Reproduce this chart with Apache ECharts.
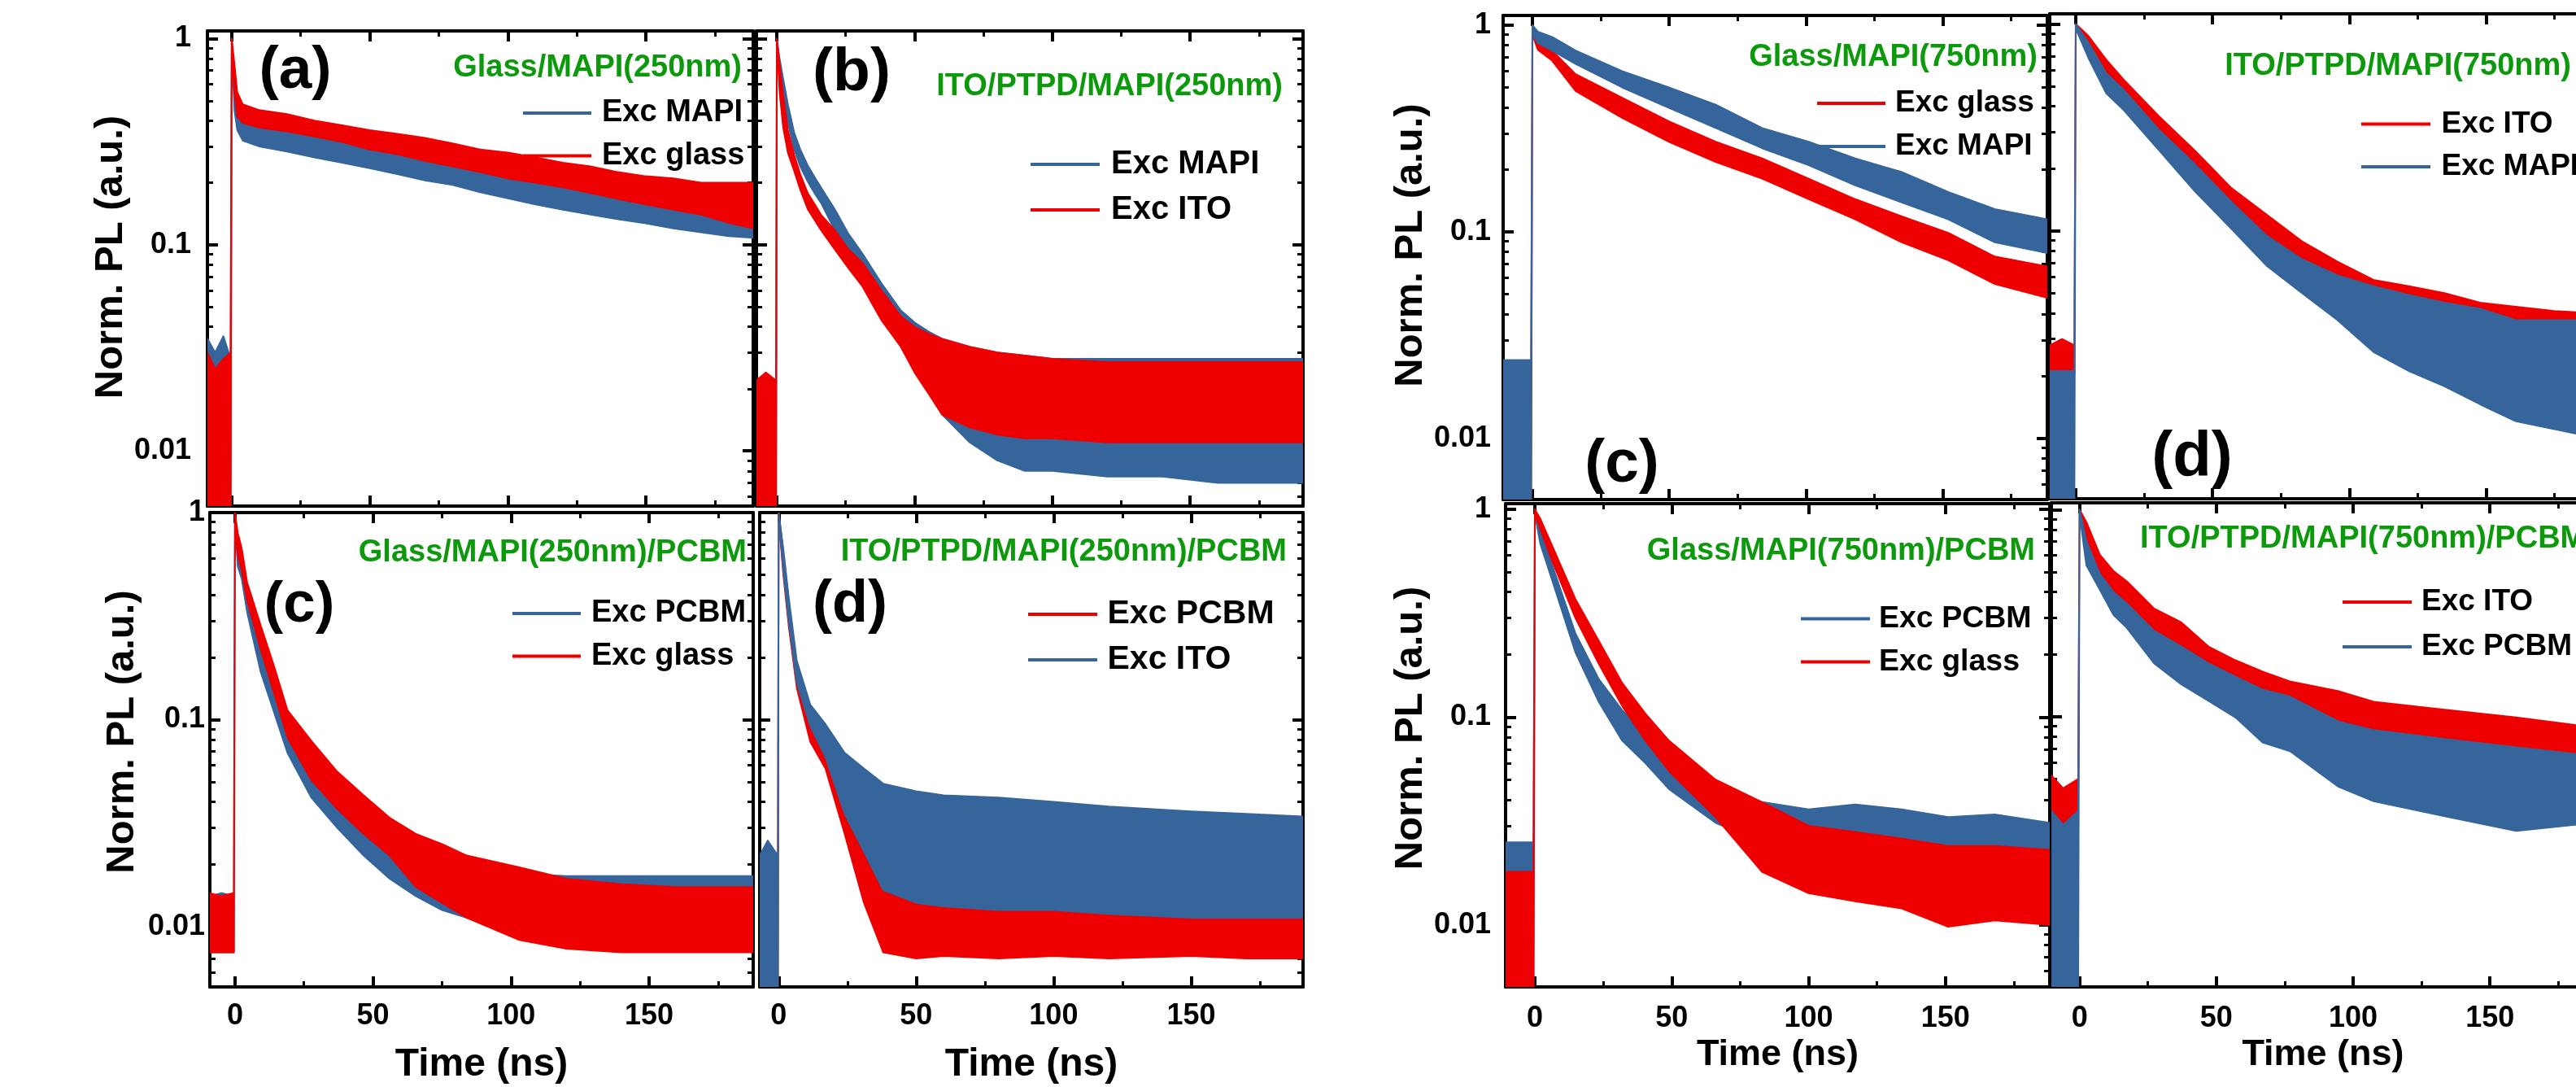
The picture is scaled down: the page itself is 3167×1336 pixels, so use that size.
<!DOCTYPE html>
<html><head><meta charset="utf-8">
<script src="https://cdn.jsdelivr.net/npm/echarts@6/dist/echarts.min.js"></script>
<style>html,body{margin:0;padding:0;background:#fff}#c{width:3167px;height:1336px}</style>
</head><body><div id="c"></div>
<script>
// ---------------- DATA (upper / lower edge of each noisy trace) ----------------
const X_TICKS = [0, 50, 100, 150];
const X_MINOR = [25, 75, 125, 175];
const Y_TICK_LABELS = ['0.01', '0.1', '1'];

// (a) Glass/MAPI(250nm)
const T_A = [-8.8, -6, -3, -0.4, 0, 1, 2, 4, 10, 20, 30, 40, 50, 60, 70, 80, 90, 100, 110, 120, 130, 140, 150, 160, 170, 180, 189];
const A_MAPI_HI = [0.035, 0.03, 0.036, 0.028, 1.0, 0.6, 0.45, 0.41, 0.39, 0.37, 0.35, 0.33, 0.31, 0.29, 0.275, 0.26, 0.245, 0.23, 0.215, 0.205, 0.195, 0.185, 0.175, 0.165, 0.158, 0.15, 0.145];
const A_MAPI_LO = [0.004, 0.004, 0.004, 0.004, 0.9, 0.45, 0.36, 0.32, 0.3, 0.283, 0.265, 0.25, 0.235, 0.22, 0.205, 0.195, 0.18, 0.168, 0.157, 0.148, 0.14, 0.133, 0.127, 0.12, 0.115, 0.11, 0.108];
const A_GLASS_HI = [0.03, 0.025, 0.028, 0.03, 1.0, 0.75, 0.55, 0.48, 0.45, 0.43, 0.4, 0.38, 0.36, 0.345, 0.33, 0.31, 0.29, 0.28, 0.265, 0.25, 0.24, 0.225, 0.215, 0.21, 0.2, 0.2, 0.2];
const A_GLASS_LO = [0.004, 0.004, 0.004, 0.004, 0.9, 0.55, 0.42, 0.39, 0.37, 0.355, 0.335, 0.315, 0.29, 0.275, 0.255, 0.24, 0.225, 0.21, 0.2, 0.19, 0.178, 0.167, 0.157, 0.148, 0.14, 0.128, 0.12];

// (b) ITO/PTPD/MAPI(250nm)
const T_B = [-7.4, -4, -0.3, 0, 1, 2.3, 4, 6.3, 8.5, 11.2, 14, 16, 21, 26, 31, 38, 45, 50, 55, 60, 70, 80, 90, 100, 120, 140, 160, 180, 191];
const B_MAPI_HI = [0.015, 0.016, 0.015, 1.0, 0.8, 0.64, 0.48, 0.35, 0.29, 0.243, 0.21, 0.19, 0.149, 0.113, 0.091, 0.065, 0.048, 0.042, 0.038, 0.035, 0.032, 0.03, 0.029, 0.028, 0.028, 0.028, 0.028, 0.028, 0.028];
const B_MAPI_LO = [0.003, 0.003, 0.003, 0.95, 0.68, 0.5, 0.39, 0.29, 0.24, 0.203, 0.175, 0.16, 0.118, 0.09, 0.073, 0.05, 0.036, 0.028, 0.02, 0.015, 0.011, 0.009, 0.008, 0.008, 0.0075, 0.0075, 0.007, 0.007, 0.007];
const B_ITO_HI = [0.022, 0.024, 0.022, 1.0, 0.745, 0.53, 0.36, 0.273, 0.22, 0.178, 0.155, 0.14, 0.118, 0.095, 0.082, 0.06, 0.045, 0.04, 0.037, 0.035, 0.032, 0.03, 0.029, 0.028, 0.027, 0.027, 0.027, 0.027, 0.027];
const B_ITO_LO = [0.003, 0.003, 0.003, 0.95, 0.55, 0.37, 0.28, 0.228, 0.185, 0.149, 0.13, 0.118, 0.095, 0.077, 0.063, 0.043, 0.032, 0.024, 0.019, 0.015, 0.013, 0.012, 0.0115, 0.0115, 0.011, 0.011, 0.011, 0.011, 0.011];

// (c) Glass/MAPI(250nm)/PCBM
const T_C = [-9.1, -5, -0.4, 0, 1, 2.5, 4.4, 9.3, 14.2, 19, 27.6, 37, 46.6, 56, 65.5, 75, 84, 103, 120, 140, 160, 187.7];
const C_PCBM_HI = [0.014, 0.0145, 0.014, 1.0, 0.7, 0.571, 0.42, 0.23, 0.146, 0.093, 0.062, 0.045, 0.034, 0.028, 0.024, 0.021, 0.019, 0.018, 0.0175, 0.0175, 0.0175, 0.0175];
const C_PCBM_LO = [0.0075, 0.0075, 0.0075, 0.9, 0.55, 0.476, 0.33, 0.17, 0.108, 0.069, 0.042, 0.03, 0.022, 0.017, 0.014, 0.012, 0.011, 0.009, 0.0085, 0.0082, 0.008, 0.008];
const C_GLASS_HI = [0.0145, 0.014, 0.0145, 1.0, 0.8, 0.665, 0.46, 0.285, 0.18, 0.111, 0.079, 0.056, 0.043, 0.0335, 0.028, 0.025, 0.022, 0.0193, 0.017, 0.016, 0.0155, 0.0155];
const C_GLASS_LO = [0.0075, 0.0075, 0.0075, 0.9, 0.62, 0.52, 0.375, 0.218, 0.133, 0.082, 0.051, 0.037, 0.028, 0.022, 0.0155, 0.013, 0.011, 0.0086, 0.0078, 0.0075, 0.0075, 0.0075];

// (d) ITO/PTPD/MAPI(250nm)/PCBM
const T_D = [-6.9, -4, -0.3, 0, 1.7, 3.7, 6.6, 11.5, 17, 24, 31, 38, 50, 60, 80, 100, 120, 150, 170, 190.7];
const D_PCBM_HI = [0.015, 0.016, 0.015, 1.0, 0.64, 0.37, 0.17, 0.1, 0.08, 0.043, 0.031, 0.024, 0.022, 0.021, 0.02, 0.02, 0.02, 0.02, 0.02, 0.02];
const D_PCBM_LO = [0.003, 0.003, 0.003, 0.95, 0.5, 0.28, 0.142, 0.078, 0.058, 0.028, 0.013, 0.0075, 0.007, 0.0072, 0.007, 0.0072, 0.007, 0.0072, 0.007, 0.007];
const D_ITO_HI = [0.022, 0.026, 0.022, 1.0, 0.665, 0.385, 0.192, 0.118, 0.095, 0.069, 0.058, 0.049, 0.045, 0.043, 0.042, 0.04, 0.038, 0.036, 0.035, 0.034];
const D_ITO_LO = [0.003, 0.003, 0.003, 0.95, 0.52, 0.294, 0.15, 0.093, 0.066, 0.035, 0.023, 0.015, 0.013, 0.0125, 0.012, 0.012, 0.0115, 0.011, 0.011, 0.011];

// right (c) Glass/MAPI(750nm)
const T_RC1 = [-10.7, -6, -0.5, 0, 2, 7.2, 15.8, 32.8, 49.9, 67, 84, 101, 118, 135, 152, 169, 188.2];
const RC1_GLASS_HI = [0.015, 0.015, 0.015, 1.0, 0.85, 0.754, 0.58, 0.446, 0.343, 0.273, 0.227, 0.181, 0.144, 0.119, 0.099, 0.076, 0.068];
const RC1_GLASS_LO = [0.004, 0.004, 0.004, 0.9, 0.76, 0.674, 0.48, 0.356, 0.273, 0.218, 0.181, 0.144, 0.115, 0.089, 0.073, 0.056, 0.048];
const RC1_MAPI_HI = [0.024, 0.024, 0.024, 1.0, 0.93, 0.877, 0.754, 0.6, 0.5, 0.413, 0.318, 0.273, 0.227, 0.195, 0.156, 0.129, 0.115];
const RC1_MAPI_LO = [0.004, 0.004, 0.004, 0.9, 0.82, 0.754, 0.649, 0.5, 0.398, 0.318, 0.254, 0.21, 0.168, 0.139, 0.115, 0.089, 0.079];

// right (d) ITO/PTPD/MAPI(750nm)
const T_RD1 = [-9.5, -5, -0.5, 0, 4.6, 11.1, 17.6, 30.6, 43.6, 56.7, 69.7, 82.7, 95.7, 108.8, 121.8, 134.8, 147.8, 160.9, 175, 190];
const RD1_ITO_HI = [0.028, 0.03, 0.028, 1.0, 0.877, 0.674, 0.537, 0.356, 0.244, 0.162, 0.12, 0.089, 0.071, 0.058, 0.054, 0.05, 0.045, 0.043, 0.041, 0.04];
const RD1_ITO_LO = [0.02, 0.02, 0.02, 0.95, 0.754, 0.558, 0.446, 0.295, 0.188, 0.12, 0.085, 0.066, 0.052, 0.045, 0.039, 0.036, 0.033, 0.031, 0.028, 0.027];
const RD1_MAPI_HI = [0.021, 0.021, 0.021, 1.0, 0.813, 0.58, 0.48, 0.306, 0.21, 0.139, 0.095, 0.073, 0.061, 0.054, 0.049, 0.045, 0.042, 0.037, 0.037, 0.037];
const RD1_MAPI_LO = [0.004, 0.004, 0.004, 0.95, 0.687, 0.463, 0.383, 0.244, 0.155, 0.103, 0.068, 0.05, 0.037, 0.026, 0.021, 0.0177, 0.0145, 0.012, 0.011, 0.01];

// right (c) lower Glass/MAPI(750nm)/PCBM
const T_RC2 = [-10.7, -6, -0.5, 0, 2, 6.3, 14.8, 23.4, 31.9, 40.4, 49, 66, 83, 100, 117, 134, 151, 168, 188];
const RC2_PCBM_HI = [0.025, 0.025, 0.025, 1.0, 0.8, 0.541, 0.253, 0.152, 0.108, 0.084, 0.065, 0.047, 0.039, 0.036, 0.038, 0.036, 0.033, 0.034, 0.031];
const RC2_PCBM_LO = [0.004, 0.004, 0.004, 0.95, 0.68, 0.457, 0.205, 0.118, 0.077, 0.06, 0.045, 0.031, 0.025, 0.02, 0.018, 0.018, 0.017, 0.018, 0.018];
const RC2_GLASS_HI = [0.018, 0.018, 0.018, 1.0, 0.9, 0.669, 0.37, 0.232, 0.146, 0.104, 0.077, 0.05, 0.039, 0.03, 0.028, 0.026, 0.024, 0.024, 0.023];
const RC2_GLASS_LO = [0.004, 0.004, 0.004, 0.95, 0.8, 0.565, 0.3, 0.18, 0.113, 0.077, 0.055, 0.033, 0.018, 0.0142, 0.013, 0.012, 0.0098, 0.0105, 0.01];

// right (d) lower ITO/PTPD/MAPI(750nm)/PCBM
const T_RD2 = [-10.3, -6, -0.5, 0, 2.5, 7.4, 12.4, 17.3, 27.2, 37.2, 47.1, 57, 66.9, 76.9, 94.4, 107.5, 133.5, 159.6, 181, 190];
const RD2_ITO_HI = [0.052, 0.045, 0.05, 1.0, 0.87, 0.606, 0.505, 0.45, 0.333, 0.285, 0.218, 0.187, 0.165, 0.148, 0.133, 0.118, 0.108, 0.099, 0.091, 0.09];
const RD2_ITO_LO = [0.034, 0.03, 0.034, 0.95, 0.64, 0.477, 0.385, 0.333, 0.245, 0.205, 0.171, 0.134, 0.115, 0.1, 0.084, 0.077, 0.071, 0.065, 0.06, 0.06];
const RD2_PCBM_HI = [0.035, 0.03, 0.035, 1.0, 0.705, 0.49, 0.4, 0.352, 0.26, 0.218, 0.181, 0.156, 0.135, 0.125, 0.095, 0.086, 0.078, 0.071, 0.066, 0.065];
const RD2_PCBM_LO = [0.004, 0.004, 0.004, 0.95, 0.538, 0.41, 0.31, 0.268, 0.181, 0.143, 0.119, 0.099, 0.075, 0.068, 0.046, 0.039, 0.033, 0.028, 0.03, 0.03];

// ---------------- STYLE / LAYOUT ----------------
const RED = '#ee0000', BLUE = '#35659b', GREEN = '#0c9a0c';
const FONT = '"Liberation Sans", Arial, Helvetica, sans-serif';

const panels = [
  {grid:{left:255,top:38,width:671,height:584}, x:[-8.8,188.9], y:[0.0054,1.09], yLab:20, xLab:null, yName:{gap:80,shift:14}, xName:null,
   series:[['a|Exc MAPI',BLUE,T_A,A_MAPI_HI,A_MAPI_LO],['a|Exc glass',RED,T_A,A_GLASS_HI,A_GLASS_LO]],
   legend:{left:643,top:119,w:84,lh:40,gap:12.5,fs:38,pad:8,items:['a|Exc MAPI','a|Exc glass']}},
  {grid:{left:930,top:38,width:672,height:584}, x:[-7.4,191], y:[0.0054,1.09], yLab:null, xLab:null, yName:null, xName:null,
   series:[['b|Exc MAPI',BLUE,T_B,B_MAPI_HI,B_MAPI_LO],['b|Exc ITO',RED,T_B,B_ITO_HI,B_ITO_LO]],
   legend:{left:1267,top:181,w:85,lh:42,gap:14,fs:40,pad:9,items:['b|Exc MAPI','b|Exc ITO']}},
  {grid:{left:258,top:630,width:668,height:583}, x:[-9.1,187.7], y:[0.0051,1], yLab:6, xLab:18, yName:{gap:83,shift:22}, xName:{gap:72,fs:48},
   series:[['c|Exc PCBM',BLUE,T_C,C_PCBM_HI,C_PCBM_LO],['c|Exc glass',RED,T_C,C_GLASS_HI,C_GLASS_LO]],
   legend:{left:630,top:734,w:84,lh:40,gap:12.6,fs:38,pad:8,items:['c|Exc PCBM','c|Exc glass']}},
  {grid:{left:934,top:630,width:668,height:583}, x:[-6.9,190.7], y:[0.0051,1], yLab:null, xLab:18, yName:null, xName:{gap:72,fs:48},
   series:[['d|Exc PCBM',RED,T_D,D_PCBM_HI,D_PCBM_LO],['d|Exc ITO',BLUE,T_D,D_ITO_HI,D_ITO_LO]],
   legend:{left:1264,top:734,w:85,lh:42,gap:14,fs:41,pad:7.5,items:['d|Exc PCBM','d|Exc ITO']}},
  {grid:{left:1848,top:19,width:669,height:595}, x:[-10.7,188.2], y:[0.00507,1.115], yLab:15, xLab:null, yName:{gap:78,shift:15}, xName:null,
   series:[['rc1|Exc glass',RED,T_RC1,RC1_GLASS_HI,RC1_GLASS_LO],['rc1|Exc MAPI',BLUE,T_RC1,RC1_MAPI_HI,RC1_MAPI_LO]],
   legend:{left:2234,top:107,w:84,lh:40,gap:13,fs:37,pad:7,items:['rc1|Exc glass','rc1|Exc MAPI']}},
  {grid:{left:2520,top:17,width:669,height:596}, x:[-9.5,189.4], y:[0.00507,1.12], yLab:null, xLab:null, yName:null, xName:null,
   series:[['rd1|Exc ITO',RED,T_RD1,RD1_ITO_HI,RD1_ITO_LO],['rd1|Exc MAPI',BLUE,T_RD1,RD1_MAPI_HI,RD1_MAPI_LO]],
   legend:{left:2903,top:132.6,w:85,lh:40,gap:12.4,fs:37,pad:8.5,items:['rd1|Exc ITO','rd1|Exc MAPI']}},
  {grid:{left:1851,top:619,width:669,height:594}, x:[-10.7,188.1], y:[0.00503,1.065], yLab:18, xLab:21, yName:{gap:73,shift:21}, xName:{gap:61,fs:45},
   series:[['rc2|Exc PCBM',BLUE,T_RC2,RC2_PCBM_HI,RC2_PCBM_LO],['rc2|Exc glass',RED,T_RC2,RC2_GLASS_HI,RC2_GLASS_LO]],
   legend:{left:2214,top:740.6,w:85,lh:40,gap:13,fs:37.5,pad:6,items:['rc2|Exc PCBM','rc2|Exc glass']}},
  {grid:{left:2522,top:618,width:668,height:595}, x:[-10.3,188.3], y:[0.00494,1.078], yLab:null, xLab:21, yName:null, xName:{gap:61,fs:45},
   series:[['rd2|Exc ITO',RED,T_RD2,RD2_ITO_HI,RD2_ITO_LO],['rd2|Exc PCBM',BLUE,T_RD2,RD2_PCBM_HI,RD2_PCBM_LO]],
   legend:{left:2880,top:720,w:85,lh:40,gap:15,fs:37,pad:7,items:['rd2|Exc ITO','rd2|Exc PCBM']}}
];

const titles = [
  ['Glass/MAPI(250nm)', 912, 84, 'right'], ['ITO/PTPD/MAPI(250nm)', 1577, 107, 'right'],
  ['Glass/MAPI(250nm)/PCBM', 918, 680, 'right'], ['ITO/PTPD/MAPI(250nm)/PCBM', 1582, 679, 'right'],
  ['Glass/MAPI(750nm)', 2505, 71, 'right'], ['ITO/PTPD/MAPI(750nm)', 3161, 82, 'right'],
  ['Glass/MAPI(750nm)/PCBM', 2502, 678, 'right'], ['ITO/PTPD/MAPI(750nm)/PCBM', 2631, 663, 'left']
];
const tags = [['(a)',363,88,73],['(b)',1047,90,75],['(c)',368,744,71],['(d)',1045,744,72],['(c)',1994,571,75],['(d)',2695,563,78]];

// ---------------- BUILD ----------------
const L10 = Math.log10;
const LABEL_MAP = {'-2':Y_TICK_LABELS[0], '-1':Y_TICK_LABELS[1], '0':Y_TICK_LABELS[2]};
const Y_MAJOR = [-2, -1, 0];
function yMinor(lo, hi) {
  const out = [];
  for (const d of [-3, -2, -1]) for (let k = 2; k <= 9; k++) { const v = d + L10(k); if (v > lo && v < hi) out.push(v); }
  return out;
}
const txt = (fs) => ({fontSize: fs, fontWeight: 'bold', fontFamily: FONT, color: '#000'});
const grid = [], xAxis = [], yAxis = [], series = [], legend = [];

panels.forEach((p, i) => {
  grid.push(Object.assign({outerBoundsMode: 'none', containLabel: false}, p.grid));
  const ymin = L10(p.y[0]), ymax = L10(p.y[1]);
  const line = {show: true, onZero: false, lineStyle: {color: '#000', width: 4}};
  const noLine = {show: false, onZero: false};
  const xBase = {gridIndex: i, type: 'value', min: p.x[0], max: p.x[1], splitLine: {show: false}};
  xAxis.push(Object.assign({}, xBase, {position: 'bottom', axisLine: line,
    axisTick: {show: true, inside: true, length: 13, lineStyle: {width: 4, color: '#000'}, customValues: X_TICKS},
    axisLabel: Object.assign({show: p.xLab !== null, customValues: X_TICKS, margin: p.xLab || 0}, txt(36)),
    name: p.xName ? 'Time (ns)' : '', nameLocation: 'middle', nameGap: p.xName ? p.xName.gap : 0,
    nameTextStyle: txt(p.xName ? p.xName.fs : 10)}));
  xAxis.push(Object.assign({}, xBase, {position: 'bottom', axisLine: noLine,
    axisTick: {show: true, inside: true, length: 7, lineStyle: {width: 3, color: '#000'}, customValues: X_MINOR}, axisLabel: {show: false}}));
  xAxis.push(Object.assign({}, xBase, {position: 'top', axisLine: line,
    axisTick: {show: true, inside: true, length: 13, lineStyle: {width: 4, color: '#000'}, customValues: X_TICKS}, axisLabel: {show: false}}));
  xAxis.push(Object.assign({}, xBase, {position: 'top', axisLine: noLine,
    axisTick: {show: true, inside: true, length: 7, lineStyle: {width: 3, color: '#000'}, customValues: X_MINOR}, axisLabel: {show: false}}));

  const yBase = {gridIndex: i, type: 'value', min: ymin, max: ymax, splitLine: {show: false}};
  const minors = yMinor(ymin, ymax);
  const majors = Y_MAJOR.filter(v => v >= ymin - 1e-9 && v <= ymax + 1e-9);
  yAxis.push(Object.assign({}, yBase, {position: 'left', axisLine: line,
    axisTick: {show: true, inside: true, length: 13, lineStyle: {width: 4, color: '#000'}, customValues: majors},
    axisLabel: Object.assign({show: p.yLab !== null, customValues: majors, margin: p.yLab || 0,
      formatter: v => LABEL_MAP[String(Math.round(v))] || ''}, txt(36)),
    name: p.yName ? 'Norm. PL (a.u.)' : '', nameLocation: 'middle', nameRotate: 90, nameGap: p.yName ? p.yName.gap : 0,
    nameTextStyle: Object.assign(txt(49), {padding: [0, 0, 0, p.yName ? 2 * p.yName.shift : 0]})}));
  yAxis.push(Object.assign({}, yBase, {position: 'left', axisLine: noLine,
    axisTick: {show: true, inside: true, length: 7, lineStyle: {width: 3, color: '#000'}, customValues: minors}, axisLabel: {show: false}}));
  yAxis.push(Object.assign({}, yBase, {position: 'right', axisLine: line,
    axisTick: {show: true, inside: true, length: 13, lineStyle: {width: 4, color: '#000'}, customValues: majors}, axisLabel: {show: false}}));
  yAxis.push(Object.assign({}, yBase, {position: 'right', axisLine: noLine,
    axisTick: {show: true, inside: true, length: 7, lineStyle: {width: 3, color: '#000'}, customValues: minors}, axisLabel: {show: false}}));

  p.series.forEach(([name, color, T, HI, LO]) => {
    series.push({
      type: 'custom', name, xAxisIndex: 4 * i, yAxisIndex: 4 * i, clip: true, silent: true,
      itemStyle: {color},
      data: T.map((t, k) => [t, L10(HI[k]), L10(LO[k])]),
      encode: {x: 0, y: [1, 2]},
      renderItem: (params, api) => {
        if (params.dataIndex !== 0) return null;
        const pts = [];
        for (let k = 0; k < T.length; k++) pts.push(api.coord([T[k], L10(HI[k])]));
        for (let k = T.length - 1; k >= 0; k--) pts.push(api.coord([T[k], L10(LO[k])]));
        return {type: 'polygon', shape: {points: pts}, style: {fill: color, stroke: color, lineWidth: 2, lineJoin: 'round'}};
      }
    });
  });
  const lg = p.legend;
  legend.push({
    orient: 'vertical', left: lg.left, top: lg.top, padding: 0, itemWidth: lg.w, itemHeight: 4, icon: 'rect',
    itemGap: lg.gap, selectedMode: false, data: lg.items,
    formatter: n => n.split('|')[1],
    textStyle: Object.assign(txt(lg.fs), {lineHeight: lg.lh, padding: [0, 0, 0, lg.pad]})
  });
});

const graphic = [];
titles.forEach(([t, x, y, al]) => graphic.push({type: 'text', x, y, z: 100,
  style: {text: t, align: al, verticalAlign: 'middle', fill: GREEN, fontSize: 38, fontWeight: 'bold', fontFamily: FONT}}));
tags.forEach(([t, x, y, fs]) => graphic.push({type: 'text', x, y, z: 100,
  style: {text: t, align: 'center', verticalAlign: 'middle', fill: '#000', fontSize: fs, fontWeight: 'bold', fontFamily: FONT}}));

const chart = echarts.init(document.getElementById('c'), null, {renderer: 'canvas'});
chart.setOption({animation: false, backgroundColor: '#fff', grid, xAxis, yAxis, series, legend, graphic});
</script></body></html>
